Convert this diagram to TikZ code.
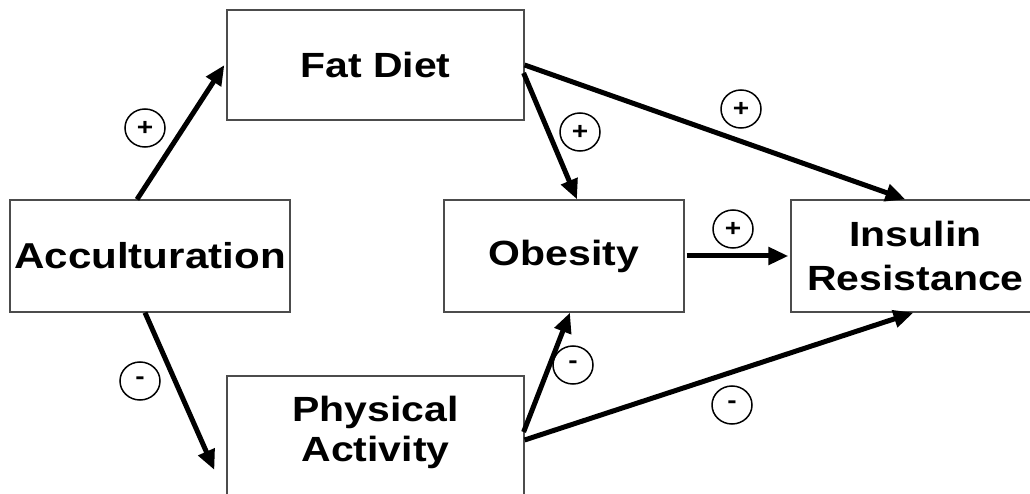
\documentclass[tikz,border=0pt]{standalone}
\usepackage{fontspec}
\setmainfont{Liberation Sans}[FakeStretch=1.17]
\usetikzlibrary{arrows.meta,calc,shapes.geometric}
\begin{document}
\begin{tikzpicture}[x=1pt,y=-1pt,
  box/.style={draw=black!70,line width=1.2pt,fill=white,inner sep=0pt,align=center,
    font=\fontsize{35}{42}\selectfont\bfseries},
  lbl/.style={inner sep=0pt,align=center,font=\fontsize{35}{40}\selectfont\bfseries},
  arr/.style={line width=5pt,-{Triangle[length=20pt,width=17pt]}},
  sign/.style={draw=black,line width=1.5pt,ellipse,minimum width=40pt,minimum height=38pt,
    inner sep=0pt,font=\fontsize{24}{24}\selectfont\bfseries}]
\useasboundingbox (0,0) rectangle (1030,494);
\clip (0,0) rectangle (1030,494);
\fill[white] (0,0) rectangle (1030,494);
% boxes
\node[box,minimum width=297pt,minimum height=110pt] (fat) at (375.5,65) {Fat Diet};
\node[box,minimum width=280pt,minimum height=112pt,font=\fontsize{36}{42}\selectfont\bfseries] (acc) at (150,256) {Acculturation};
\node[box,minimum width=240pt,minimum height=112pt] (ob) at (564,256) {Obesity};
\node[box,minimum width=249pt,minimum height=112pt,font=\fontsize{35}{44}\selectfont\bfseries] (ins) at (915.5,256) {Insulin\\Resistance};
\node[box,minimum width=297pt,minimum height=124pt] (pa) at (375.5,438) {};
\node[lbl] (patext) at (375.5,432) {Physical\\Activity};
% arrows
\draw[arr] ($(acc.north)+(-13,0)$) -- ($(fat.west)+(-2,0)$);
\draw[arr] ($(acc.south)+(-5,0)$) -- ($(pa.west)+(-12,32)$);
\draw[arr] (fat.east) -- ($(ins.north)+(-10,0)$);
\draw[arr] ($(fat.east)+(-1,8)$) -- ($(ob.north)+(13,0)$);
\draw[arr] ($(ob.east)+(2,0)$) -- ($(ins.west)+(-2,0)$);
\draw[arr] ($(pa.east)+(-1,-6)$) -- ($(ob.south)+(6,0)$);
\draw[arr] ($(pa.east)+(0,2)$) -- ($(ins.south)+(-2,0)$);
% signs
\node[sign] (s1) at (145,128) {+};
\node[sign] (s2) at (580,132) {+};
\node[sign] (s3) at (741,109) {+};
\node[sign] (s4) at (733,229) {+};
\node[sign] (s5) at (140,381) {-};
\node[sign] (s6) at (573,365) {-};
\node[sign] (s7) at (732,405) {-};
\end{tikzpicture}
\end{document}
